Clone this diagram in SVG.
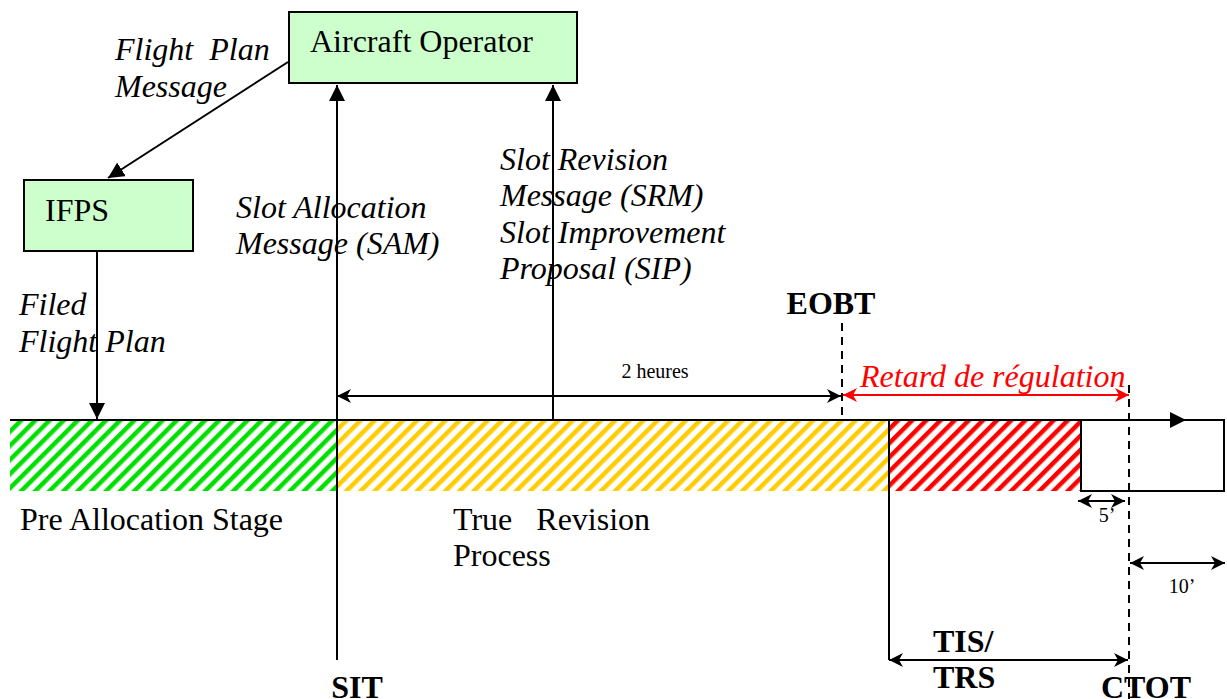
<svg xmlns="http://www.w3.org/2000/svg" width="1227" height="699" viewBox="0 0 1227 699">
<style>
.box{fill:#ccffcc;stroke:#000;stroke-width:2}
.ln{stroke:#000;stroke-width:2;fill:none}
.dash{stroke:#000;stroke-width:2;stroke-dasharray:8,6;fill:none}
.t{font-family:"Liberation Serif","Times New Roman",serif;font-size:32px;fill:#000}
.i{font-style:italic}
.b{font-weight:bold}
.s{font-size:20px}
</style>
<defs>
<pattern id="hg" patternUnits="userSpaceOnUse" width="10" height="10" patternTransform="rotate(45)"><rect width="10" height="10" fill="#fff"/><rect width="4.5" height="10" fill="#00e000"/></pattern>
<pattern id="hy" patternUnits="userSpaceOnUse" width="10" height="10" patternTransform="rotate(45)"><rect width="10" height="10" fill="#fff"/><rect width="4.5" height="10" fill="#ffcc00"/></pattern>
<pattern id="hr" patternUnits="userSpaceOnUse" width="10" height="10" patternTransform="rotate(45)"><rect width="10" height="10" fill="#fff"/><rect width="4.5" height="10" fill="#ff0000"/></pattern>
<marker id="tri" markerUnits="userSpaceOnUse" markerWidth="16" markerHeight="16" viewBox="0 0 16 16" refX="16" refY="8" orient="auto"><path d="M0,0 L16,8 L0,16 z" fill="#000"/></marker>
<marker id="barb" markerUnits="userSpaceOnUse" markerWidth="14" markerHeight="14" viewBox="0 0 14 14" refX="14" refY="7" orient="auto-start-reverse"><path d="M0,0 L14,7 L0,14 L4,7 z" fill="#000"/></marker>
<marker id="barbr" markerUnits="userSpaceOnUse" markerWidth="14" markerHeight="14" viewBox="0 0 14 14" refX="14" refY="7" orient="auto-start-reverse"><path d="M0,0 L14,7 L0,14 L4,7 z" fill="#ff0000"/></marker>
</defs>

<g id="bar">
<rect x="10" y="420" width="326" height="71" fill="url(#hg)"/>
<rect x="336" y="420" width="553" height="71" fill="url(#hy)"/>
<rect x="889" y="420" width="192" height="71" fill="url(#hr)"/>
<rect x="1081" y="420" width="143" height="71" fill="#fff" stroke="#000" stroke-width="2"/>
</g>

<g id="connectors">
<line class="ln" x1="10" y1="420" x2="1186" y2="420" marker-end="url(#tri)"/>
<line class="ln" x1="1186" y1="420" x2="1225" y2="420"/>
<line class="ln" x1="288" y1="62" x2="108" y2="178" marker-end="url(#tri)"/>
<line class="ln" x1="97" y1="252" x2="97" y2="419" marker-end="url(#tri)"/>
<line class="ln" x1="337" y1="660" x2="337" y2="85" marker-end="url(#tri)"/>
<line class="ln" x1="553" y1="420" x2="553" y2="85" marker-end="url(#tri)"/>
<line class="ln" x1="337" y1="396" x2="841" y2="396" marker-start="url(#barb)" marker-end="url(#barb)"/>
<line x1="843" y1="395" x2="1129" y2="395" stroke="#ff0000" stroke-width="2" marker-start="url(#barbr)" marker-end="url(#barbr)"/>
<line class="dash" x1="842" y1="323" x2="842" y2="420"/>
<line class="dash" x1="1129" y1="385" x2="1129" y2="699"/>
<line class="ln" x1="889" y1="420" x2="889" y2="660"/>
<line class="ln" x1="889" y1="660" x2="1128" y2="660" marker-start="url(#barb)" marker-end="url(#barb)"/>
<line class="ln" x1="1078" y1="501" x2="1125" y2="501" marker-start="url(#barb)" marker-end="url(#barb)"/>
<line class="ln" x1="1130" y1="563" x2="1225" y2="563" marker-start="url(#barb)" marker-end="url(#barb)"/>
</g>

<g id="aircraft-operator">
<rect class="box" x="289" y="12" width="288" height="71"/>
<text class="t" x="310" y="52">Aircraft Operator</text>
</g>

<g id="ifps">
<rect class="box" x="24" y="180" width="169" height="71"/>
<text class="t" x="45" y="221">IFPS</text>
</g>

<g id="labels">
<text class="t i" x="115" y="60" xml:space="preserve">Flight  Plan</text>
<text class="t i" x="115" y="97">Message</text>
<text class="t i" x="19" y="315">Filed</text>
<text class="t i" x="19" y="352">Flight Plan</text>
<text class="t i" x="236" y="218">Slot Allocation</text>
<text class="t i" x="236" y="254">Message (SAM)</text>
<text class="t i" x="500" y="170">Slot Revision</text>
<text class="t i" x="500" y="206">Message (SRM)</text>
<text class="t i" x="500" y="243">Slot Improvement</text>
<text class="t i" x="500" y="279">Proposal (SIP)</text>
<text class="t b" x="831" y="314" text-anchor="middle">EOBT</text>
<text class="t s" x="655" y="378" text-anchor="middle">2 heures</text>
<text class="t i" x="860" y="387" style="fill:#ff0000">Retard de régulation</text>
<text class="t" x="20" y="530">Pre Allocation Stage</text>
<text class="t" x="453" y="530" xml:space="preserve">True   Revision</text>
<text class="t" x="453" y="566">Process</text>
<text class="t s" x="1107" y="522" text-anchor="middle">5’</text>
<text class="t s" x="1182" y="593" text-anchor="middle">10’</text>
<text class="t b" x="933" y="652">TIS/</text>
<text class="t b" x="933" y="688">TRS</text>
<text class="t b" x="357" y="698" text-anchor="middle">SIT</text>
<text class="t b" x="1146" y="698" text-anchor="middle">CTOT</text>
</g>
</svg>
